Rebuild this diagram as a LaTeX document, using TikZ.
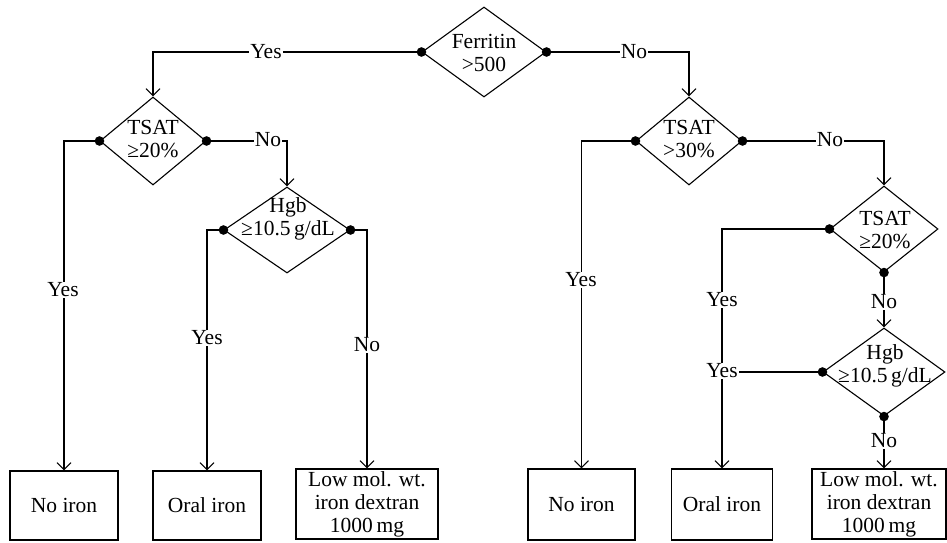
\documentclass[tikz,border=0pt]{standalone}
\usepackage{fontspec}
\setmainfont{Liberation Serif}
\usetikzlibrary{arrows.meta,shapes.geometric}
\begin{document}
\begin{tikzpicture}[x=1pt,y=-1pt,
  every node/.style={font=\fontsize{21.5}{23}\selectfont},
  dia/.style={draw,diamond,line width=1.1pt,inner sep=0pt},
  box/.style={draw,rectangle,line width=1.1pt,align=center,inner sep=0pt},
  lab/.style={fill=white,inner sep=1.2pt},
  txt/.style={align=center,inner sep=0pt},
  conn/.style={line width=1.1pt},
  arr/.style={conn,-{Straight Barb[length=7pt,width=14pt]}},
  dotr/.style={fill=black}
]
\useasboundingbox (0,0) rectangle (947,543);

% diamonds
\node[dia,minimum width=124pt,minimum height=90pt] (f)  at (484,52)  {};
\node[dia,minimum width=106pt,minimum height=88pt] (t1) at (153,141) {};
\node[dia,minimum width=126pt,minimum height=86pt] (h1) at (287,230) {};
\node[dia,minimum width=106pt,minimum height=88pt] (t2) at (689,141) {};
\node[dia,minimum width=108pt,minimum height=86pt] (t3) at (884,229) {};
\node[dia,minimum width=122pt,minimum height=88pt] (h2) at (884,372) {};

% diamond texts
\node[txt] (ft)  at (484,53)  {Ferritin\\>500};
\node[txt] (t1t) at (153,139) {TSAT\\≥20\%};
\node[txt] (h1t) at (288,219) {Hgb\\≥10.5\,g/dL};
\node[txt] (t2t) at (689,139) {TSAT\\>30\%};
\node[txt] (t3t) at (885,230) {TSAT\\≥20\%};
\node[txt] (h2t) at (885,366) {Hgb\\≥10.5\,g/dL};

% outcome boxes
\node[box,minimum width=108pt,minimum height=69pt] (n1) at (64,505.5)  {No iron};
\node[box,minimum width=108pt,minimum height=69pt] (o1) at (207,505.5) {Oral iron};
\node[box,minimum width=142pt,minimum height=70pt] (l1) at (367,504)   {Low mol. wt.\\iron dextran\\1000\,mg};
\node[box,minimum width=107pt,minimum height=71pt] (n2) at (581.5,504.5) {No iron};
\node[box,minimum width=101pt,minimum height=71pt] (o2) at (722,504.5) {Oral iron};
\node[box,minimum width=134pt,minimum height=70pt] (l2) at (879,504)   {Low mol. wt.\\iron dextran\\1000\,mg};

% connectors
\draw[arr] (f.west) -- (f.west -| t1.north) -- (t1.north);
\draw[arr] (f.east) -- (f.east -| t2.north) -- (t2.north);
\draw[arr] (t1.west) -- (t1.west -| n1.north) -- (n1.north);
\draw[arr] (t1.east) -- (t1.east -| h1.north) -- (h1.north);
\draw[arr] (h1.west) -- (h1.west -| o1.north) -- (o1.north);
\draw[arr] (h1.east) -- (h1.east -| l1.north) -- (l1.north);
\draw[arr] (t2.west) -- (t2.west -| n2.north) -- (n2.north);
\draw[arr] (t2.east) -- (t2.east -| t3.north) -- (t3.north);
\draw[arr] (t3.west) -- (t3.west -| o2.north) -- (o2.north);
\draw[arr] (t3.south) -- (h2.north);
\draw[conn] (h2.west) -- (h2.west -| o2.north);
\draw[arr] (h2.south) -- (h2.south |- l2.north);

% dots
\foreach \p in {f.west,f.east,t1.west,t1.east,h1.west,h1.east,t2.west,t2.east,t3.west,t3.south,h2.west,h2.south}
  \fill[dotr] (\p) circle (4.8pt);

% labels
\node[lab] (ly1) at (266,52)  {Yes};
\node[lab] (ln1) at (634,52)  {No};
\node[lab] (ly2) at (63,290)  {Yes};
\node[lab] (ln2) at (268,140) {No};
\node[lab] (ly3) at (207,338) {Yes};
\node[lab] (ln3) at (367,345) {No};
\node[lab] (ly4) at (581,280) {Yes};
\node[lab] (ln4) at (830,140) {No};
\node[lab] (ly5) at (722,300) {Yes};
\node[lab] (ln5) at (884,302) {No};
\node[lab] (ly6) at (722,371) {Yes};
\node[lab] (ln6) at (884,441) {No};
\end{tikzpicture}
\end{document}
